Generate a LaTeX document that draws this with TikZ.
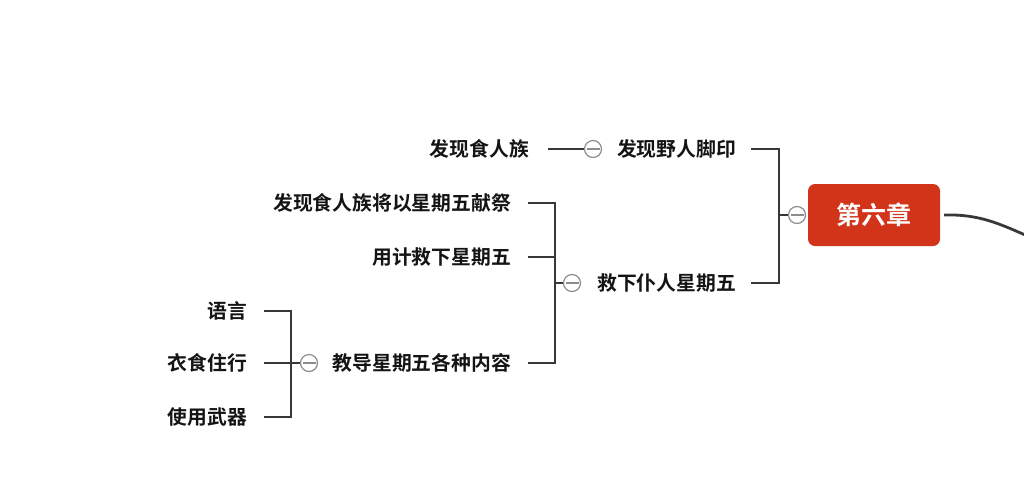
\documentclass[tikz,border=0pt]{standalone}
\usepackage{fontspec}
\newfontfamily\cjk{Noto Sans CJK SC}[BoldFont={Noto Sans CJK SC Bold}]
\begin{document}
\begin{tikzpicture}[x=1pt,y=-1pt,
  lbl/.style={anchor=east,inner sep=0pt,font=\cjk\bfseries\fontsize{19.8}{21}\selectfont,text=black!92},
  conn/.style={draw=black!78,line width=2.8pt},
  tog/.style={circle,draw=black!45,line width=1.2pt,fill=white,minimum size=17pt,inner sep=0pt,
    path picture={\draw[black!45,line width=1.2pt] ([xshift=-6.5pt]path picture bounding box.center) -- ([xshift=6.5pt]path picture bounding box.center);}},
  rootbox/.style={rounded corners=7pt,draw=none,minimum width=132pt,minimum height=62pt,text=white,font=\cjk\bfseries\fontsize{25}{27}\selectfont}
]
\useasboundingbox (0,0) rectangle (1024,493);
\definecolor{rootred}{HTML}{D2341A}
% root
\node[rootbox,fill=rootred] (root) at (874,215) {第六章};
\coordinate (curveend) at (1032,238);
\begin{scope}
\clip (0,0) rectangle (1024,493);
\draw[conn] (root.east) ++(4,0) coordinate (rs) .. controls (980,214) and (1000,224) .. (curveend);
\end{scope}
% level 1
\node[tog] (t0) at (797,215) {};
\node[lbl] (a1) at (736,149) {发现野人脚印};
\node[lbl] (a2) at (736,283) {救下仆人星期五};
\coordinate (j0) at (779,215);
\draw[conn] ([xshift=15pt]a1.east) -| (j0) |- ([xshift=15pt]a2.east);
\draw[conn] (j0) -- (t0.west);
% branch 1
\node[tog] (t1) at (593,149) {};
\node[lbl] (b1) at (529,149) {发现食人族};
\draw[conn] ([xshift=19pt]b1.east) -- (t1.west);
% branch 2
\node[tog] (t2) at (572,283) {};
\node[lbl] (c1) at (511,203) {发现食人族将以星期五献祭};
\node[lbl] (c2) at (511,257) {用计救下星期五};
\node[lbl] (c3) at (511,363) {教导星期五各种内容};
\coordinate (j2) at (555,283);
\draw[conn] ([xshift=17pt]c1.east) -| (j2) |- ([xshift=17pt]c3.east);
\draw[conn] ([xshift=17pt]c2.east) -- (c2.east -| j2);
\draw[conn] (j2) -- (t2.west);
% branch 3
\node[tog] (t3) at (309,363) {};
\node[lbl] (d1) at (247,311) {语言};
\node[lbl] (d2) at (247,363) {衣食住行};
\node[lbl] (d3) at (247,417) {使用武器};
\coordinate (j3) at (291,363);
\draw[conn] ([xshift=17pt]d1.east) -| (j3) |- ([xshift=17pt]d3.east);
\draw[conn] ([xshift=17pt]d2.east) -- (t3.west);
\end{tikzpicture}
\end{document}
